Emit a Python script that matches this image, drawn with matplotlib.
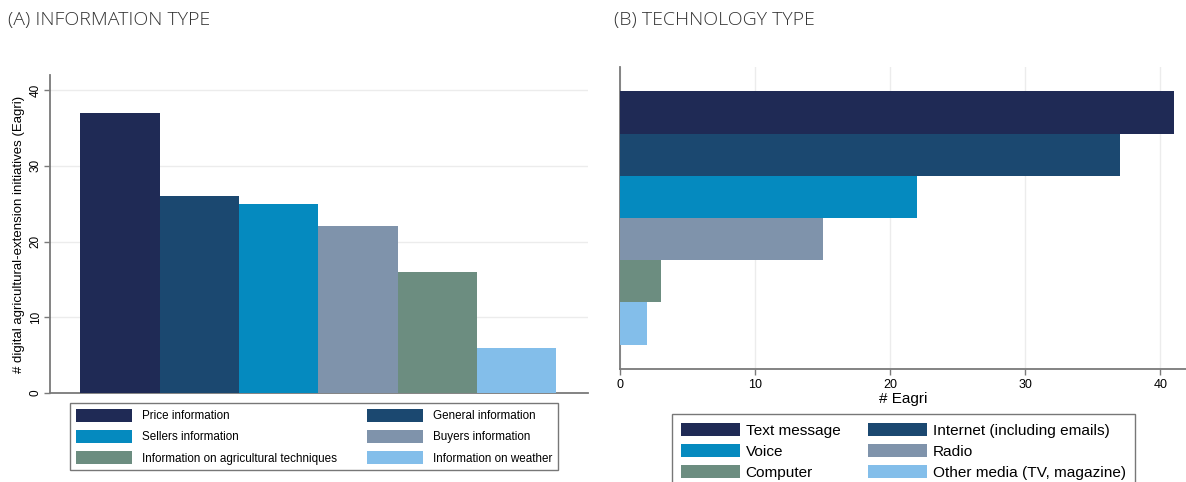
import matplotlib
matplotlib.use("Agg")
import matplotlib.pyplot as plt
from matplotlib.patches import Patch

# ---- data ----
info_labels = ["Price information", "General information", "Sellers information",
               "Buyers information", "Information on agricultural techniques",
               "Information on weather"]
info_values = [37, 26, 25, 22, 16, 6]

tech_labels = ["Text message", "Internet (including emails)", "Voice",
               "Radio", "Computer", "Other media (TV, magazine)"]
tech_values = [41, 37, 22, 15, 3, 2]

colors = ["#1f2a55", "#1b4870", "#058abf", "#7f93ab", "#6c8d80", "#83beea"]

left_ticks = [0, 10, 20, 30, 40]
right_ticks = [0, 10, 20, 30, 40]

plt.rcParams['font.family'] = ['Liberation Sans', 'DejaVu Sans']

W, H = 1186, 482
fig = plt.figure(figsize=(W / 100, H / 100), dpi=100)

def fx(px):
    return px / W

def fy(py):
    return 1 - py / H

spine_col = "#7a7a7a"
grid_col = "#ececec"

# ---- Panel A ----
axA = fig.add_axes([fx(50), fy(393), fx(588) - fx(50), fy(75) - fy(393)])
xs = list(range(len(info_values)))
axA.bar(xs, info_values, width=1.0, color=colors, edgecolor="none", zorder=3)
axA.set_xlim(-0.5 - 0.38, len(xs) - 0.5 + 0.4)
axA.set_ylim(0, 42)
axA.set_yticks(left_ticks)
axA.set_yticklabels([str(t) for t in left_ticks], rotation=90, va="center", fontsize=8.5)
axA.set_xticks([])
axA.yaxis.grid(True, color=grid_col, linewidth=1, zorder=0)
for s in ["top", "right"]:
    axA.spines[s].set_visible(False)
for s in ["left", "bottom"]:
    axA.spines[s].set_color(spine_col)
    axA.spines[s].set_linewidth(1.3)
axA.tick_params(axis="y", length=4, width=1, color=spine_col, pad=2)
axA.set_ylabel("# digital agricultural-extension initiatives (Eagri)", fontsize=9.5, labelpad=3)

# ---- Panel B ----
axB = fig.add_axes([fx(620), fy(369), fx(1186) - fx(620), fy(67) - fy(369)])
ys = list(range(len(tech_values)))
axB.barh(ys, tech_values, height=1.0, color=colors, edgecolor="none", zorder=3)
axB.set_ylim(len(ys) - 0.5 + 0.58, -0.5 - 0.58)
axB.set_xlim(0, 41.9)
axB.set_xticks(right_ticks)
axB.set_xticklabels([str(t) for t in right_ticks], fontsize=9)
axB.set_yticks([])
axB.xaxis.grid(True, color=grid_col, linewidth=1, zorder=0)
for s in ["top", "right"]:
    axB.spines[s].set_visible(False)
for s in ["left", "bottom"]:
    axB.spines[s].set_color(spine_col)
    axB.spines[s].set_linewidth(1.3)
axB.tick_params(axis="x", length=4, width=1, color=spine_col, pad=3)
axB.set_xlabel("# Eagri", fontsize=11, labelpad=1)

# ---- Legends ----
def make_handles(n):
    return [Patch(facecolor=c, edgecolor="none") for c in colors[:n]]

order = [0, 2, 4, 1, 3, 5]
hA = make_handles(6)
legA = fig.legend([hA[i] for i in order], [info_labels[i] for i in order],
                  ncol=2, fontsize=8.4, loc="upper left",
                  bbox_to_anchor=(fx(70), fy(403)), frameon=True, fancybox=False,
                  handlelength=4.8, handleheight=1.35, labelspacing=0.66,
                  handletextpad=0.85, columnspacing=2.6, borderaxespad=0, borderpad=0.5)
legA.get_frame().set_edgecolor("#555555")
legA.get_frame().set_linewidth(1.0)

legB = fig.legend([hA[i] for i in order], [tech_labels[i] for i in order],
                  ncol=2, fontsize=11.1, loc="upper left",
                  bbox_to_anchor=(fx(672), fy(414)), frameon=True, fancybox=False,
                  handlelength=3.8, handleheight=0.95, labelspacing=0.4,
                  handletextpad=0.4, columnspacing=1.8, borderaxespad=0, borderpad=0.58)
legB.get_frame().set_edgecolor("#555555")
legB.get_frame().set_linewidth(1.0)

# ---- Titles ----
fig.text(fx(8), fy(20), "(A) INFORMATION TYPE", fontsize=14, va="center", ha="left",
         family=["Open Sans", "DejaVu Sans"], fontweight="light", color="#333333")
fig.text(fx(614), fy(20), "(B) TECHNOLOGY TYPE", fontsize=14, va="center", ha="left",
         family=["Open Sans", "DejaVu Sans"], fontweight="light", color="#333333")

fig.savefig("out.png", dpi=100)
